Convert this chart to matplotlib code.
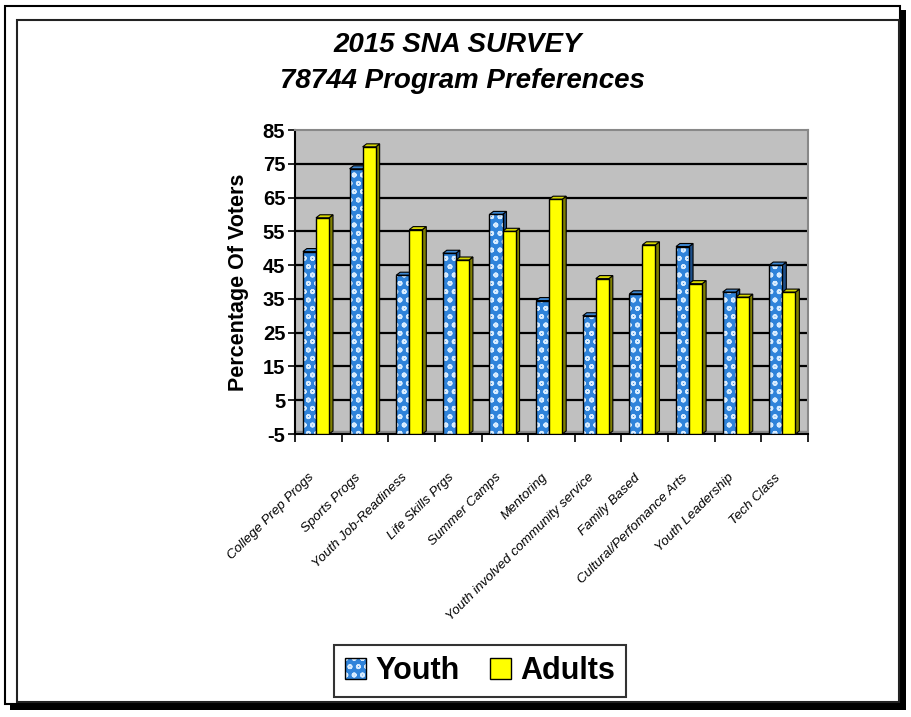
import numpy as np
import matplotlib.pyplot as plt
from matplotlib.patches import Rectangle, Polygon, Patch
from matplotlib.legend_handler import HandlerTuple

categories = ['College Prep Progs', 'Sports Progs', 'Youth Job-Readiness', 'Life Skills Prgs',
              'Summer Camps', 'Mentoring', 'Youth involved community service', 'Family Based',
              'Cultural/Perfomance Arts', 'Youth Leadership', 'Tech Class']
youth = [49, 73.5, 42, 48.5, 60, 34.5, 30, 36.5, 50.5, 37, 45]
adults = [59, 80, 55.5, 46.5, 55, 64.5, 41, 51, 39.5, 35.5, 37]
yticks = [-5, 5, 15, 25, 35, 45, 55, 65, 75, 85]

plt.rcParams['font.family'] = ['Liberation Sans', 'DejaVu Sans']
plt.rcParams['hatch.linewidth'] = 1.2

W, H = 912, 717
fig = plt.figure(figsize=(W / 100, H / 100), dpi=100)


def px_rect(x0, y0, x1, y1, **kw):
    # rectangle given in pixel coords from top-left of the picture
    fig.add_artist(Rectangle((x0 / W, 1 - y1 / H), (x1 - x0) / W, (y1 - y0) / H,
                             transform=fig.transFigure, **kw))


# outer frame with drop shadow, then inner frame
px_rect(900, 10, 906, 710, facecolor='black', edgecolor='none')
px_rect(10, 704, 906, 710, facecolor='black', edgecolor='none')
px_rect(5, 6, 900, 704, facecolor='none', edgecolor='black', linewidth=1.5)
px_rect(17, 20, 899, 702, facecolor='none', edgecolor='#222222', linewidth=1.5)

ax = fig.add_axes([295 / W, 1 - 434 / H, (808 - 295) / W, (434 - 130) / H])
ax.set_facecolor('#C0C0C0')
ax.set_xlim(-0.5, len(categories) - 0.5)
ax.set_ylim(-5, 85)
ax.set_yticks(yticks)
ax.set_yticklabels([str(v) for v in yticks], fontsize=14.5, fontweight='bold')
for v in yticks[1:-1]:
    ax.axhline(v, color='black', linewidth=1.6, zorder=1)
# floor edge
ax.axhspan(-5, -4.1, color='#8A8A8A', zorder=2)

x = np.arange(len(categories))
bw = 0.28
dx, dy = 0.085, 0.9
base = -5

blue = '#2F83DA'
yellow = '#FFFF00'


def draw_3d(lefts, vals, side_col, top_col):
    for l, v in zip(lefts, vals):
        r = l + bw
        side = Polygon([(r, base), (r + dx, base + dy), (r + dx, v + dy), (r, v)],
                       closed=True, facecolor=side_col, edgecolor='black', linewidth=0.8, zorder=3)
        top = Polygon([(l, v), (l + dx, v + dy), (r + dx, v + dy), (r, v)],
                      closed=True, facecolor=top_col, edgecolor='black', linewidth=0.8, zorder=3)
        ax.add_patch(side)
        ax.add_patch(top)


yl = x - 0.33
al = x - 0.05
draw_3d(yl, youth, '#1D4F8A', '#3C86D0')
draw_3d(al, adults, '#808000', '#D8D800')

heights_y = np.array(youth) - base
heights_a = np.array(adults) - base
ax.bar(yl, heights_y, bw, bottom=base, align='edge', color=blue, edgecolor='#D8ECFF',
       hatch='oo', linewidth=0, zorder=4)
ax.bar(yl, heights_y, bw, bottom=base, align='edge', fill=False, edgecolor='black',
       linewidth=1.0, zorder=5)
ax.bar(al, heights_a, bw, bottom=base, align='edge', color=yellow, edgecolor='black',
       linewidth=1.0, zorder=5)

# x ticks at category boundaries, labels slightly left of centres
ax.set_xticks(np.arange(len(categories) + 1) - 0.5)
ax.set_xticklabels([])
ax.set_xticks(x - 0.22, minor=True)
ax.set_xticklabels(categories, minor=True, rotation=45, ha='right', va='top',
                   rotation_mode='anchor', fontsize=9.6, fontstyle='italic')
ax.tick_params(axis='x', which='minor', length=0, pad=27)
ax.tick_params(axis='x', which='major', length=6, width=1.2, direction='out')
ax.tick_params(axis='y', length=5, width=1.2, direction='out', pad=2)

for s in ['top', 'right']:
    ax.spines[s].set_color('#888888')
    ax.spines[s].set_linewidth(1.5)
ax.spines['left'].set_linewidth(1.5)
ax.spines['bottom'].set_linewidth(1.5)

ax.set_ylabel('Percentage Of Voters', fontsize=15.5, fontweight='bold', labelpad=10)

fig.text(458 / W, 1 - 45 / H, '2015 SNA SURVEY', ha='center', va='center',
         fontsize=20, fontweight='bold', fontstyle='italic')
fig.text(462 / W, 1 - 81 / H, '78744 Program Preferences', ha='center', va='center',
         fontsize=20, fontweight='bold', fontstyle='italic')

h_youth = (Patch(facecolor=blue, edgecolor='#D8ECFF', hatch='oo', linewidth=0),
           Patch(fill=False, edgecolor='black', linewidth=1.0))
h_adult = Patch(facecolor=yellow, edgecolor='black', linewidth=1.0)
leg = fig.legend([h_youth, h_adult], ['Youth', 'Adults'], ncol=2,
                 handler_map={tuple: HandlerTuple(ndivide=1)},
                 loc='center', bbox_to_anchor=(480 / W, 1 - 671 / H),
                 prop={'size': 22, 'weight': 'bold'}, frameon=True, fancybox=False,
                 edgecolor='black', handlelength=0.7, handleheight=0.7,
                 handletextpad=0.3, columnspacing=1.0, borderpad=0.35)
leg.get_frame().set_linewidth(1.5)

fig.savefig('out.png', dpi=100)
